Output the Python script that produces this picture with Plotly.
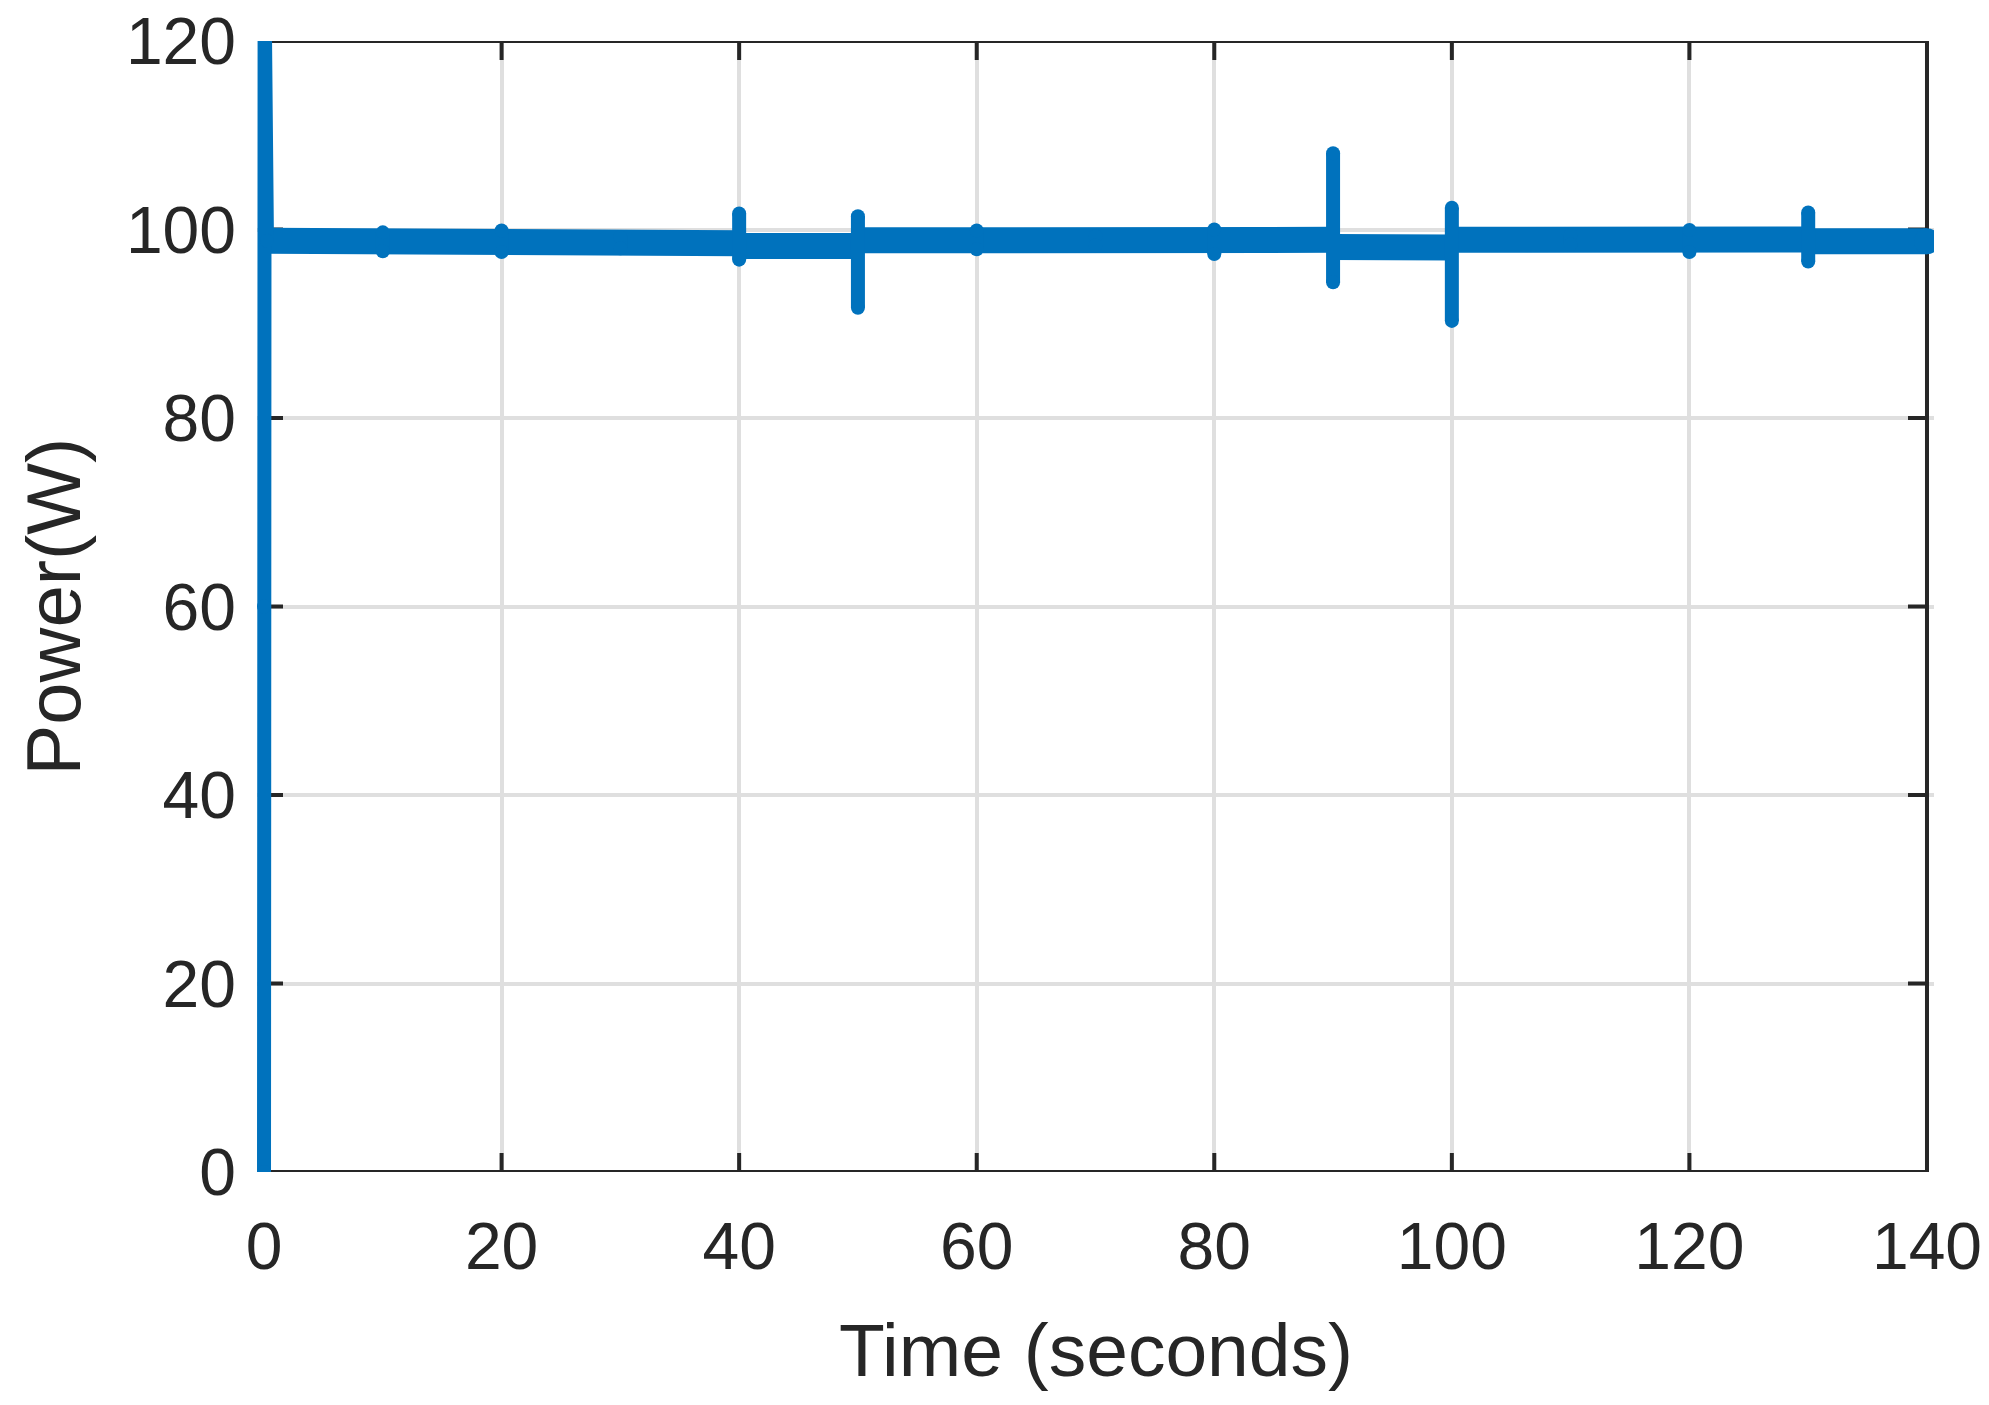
import plotly.graph_objects as go

# ---------------- data ----------------
x_ticks = [0, 20, 40, 60, 80, 100, 120, 140]
y_ticks = [0, 20, 40, 60, 80, 100, 120]

# start-up transient at t = 0
init_time = [0.0, 0.0, 0.05, 0.25]
init_power = [0.0, 60.0, 125.0, 98.8]

# steady-state plateau segments (thick ripple band)
seg_start = [0.25, 40, 50, 90, 100, 130]
seg_end = [40, 50, 90, 100, 130, 140]
seg_level_start = [98.8, 98.25, 98.85, 98.15, 98.9, 98.75]
seg_level_end = [98.55, 98.25, 98.9, 98.1, 98.95, 98.75]

# transient spikes at the irradiance change instants
spike_time = [10, 20, 30, 40, 50, 60, 70, 80, 90, 100, 110, 120, 130]
spike_high = [99.7, 99.9, 99.2, 101.7, 101.4, 99.9, 99.3, 100.0, 108.1, 102.3, 99.4, 99.95, 101.8]
spike_low = [97.7, 97.6, 98.0, 96.8, 91.7, 97.9, 98.3, 97.4, 94.4, 90.3, 98.4, 97.6, 96.6]

# ---------------- styling ----------------
BLUE = "#0072BD"
DARK = "#262626"
GRID = "#DFDFDF"
FONT = "Liberation Sans, Arial, Helvetica, sans-serif"
W, H = 1989, 1405
L, R, T, B = 257, 55, 41, 233
X_PAD = 0.59
X_MIN, X_MAX = x_ticks[0], x_ticks[-1]
Y_MIN, Y_MAX = y_ticks[0], y_ticks[-1]
TICK_FONT = 66
BAND_W = 26
LINE_W = 14

band_x, band_y, band_marker = [], [], []
for s, e, a, b in zip(seg_start, seg_end, seg_level_start, seg_level_end):
    band_x += [s, e, None]
    band_y += [a, b, None]
    band_marker += [0, 0, 0]
band_marker[-2] = BAND_W  # rounded end of the trace at the last sample

spike_x, spike_y = [], []
for t, hi, lo in zip(spike_time, spike_high, spike_low):
    spike_x += [t, t, None]
    spike_y += [hi, lo, None]

fig = go.Figure()
fig.add_trace(go.Scatter(
    x=band_x, y=band_y, mode="lines+markers", connectgaps=False,
    line=dict(color=BLUE, width=BAND_W),
    marker=dict(size=band_marker, color=BLUE, opacity=1, line=dict(width=0)),
    hoverinfo="skip", showlegend=False))
fig.add_trace(go.Scatter(
    x=spike_x, y=spike_y, mode="lines+markers", connectgaps=False,
    line=dict(color=BLUE, width=LINE_W),
    marker=dict(size=LINE_W, color=BLUE, opacity=1, line=dict(width=0)),
    hoverinfo="skip", showlegend=False))
fig.add_trace(go.Scatter(
    x=init_time, y=init_power, mode="lines+markers",
    line=dict(color=BLUE, width=LINE_W),
    marker=dict(size=LINE_W, color=BLUE, opacity=1, line=dict(width=0)),
    hoverinfo="skip", showlegend=False))

shapes = [dict(type="rect", xref="x", yref="y", x0=X_MIN, x1=X_MAX, y0=Y_MIN, y1=Y_MAX,
               line=dict(color=DARK, width=4), fillcolor="rgba(0,0,0,0)", layer="between")]
TL = 19
for v in y_ticks[1:-1]:
    for anchor, d in ((X_MIN, TL), (X_MAX, -TL)):
        shapes.append(dict(type="line", xref="x", yref="y", xsizemode="pixel", xanchor=anchor,
                           x0=0, x1=d, y0=v, y1=v, line=dict(color=DARK, width=4), layer="between"))
for v in x_ticks[1:-1]:
    for anchor, d in ((Y_MIN, TL), (Y_MAX, -TL)):
        shapes.append(dict(type="line", xref="x", yref="y", ysizemode="pixel", yanchor=anchor,
                           y0=0, y1=d, x0=v, x1=v, line=dict(color=DARK, width=4), layer="between"))

fig.update_layout(
    template="none",
    width=W, height=H,
    margin=dict(l=L, r=R, t=T, b=B, pad=0, autoexpand=False),
    paper_bgcolor="white", plot_bgcolor="white",
    font=dict(family=FONT, color=DARK),
    shapes=shapes,
    showlegend=False,
    xaxis=dict(range=[X_MIN - X_PAD, X_MAX + X_PAD], tickmode="array", tickvals=x_ticks,
               ticktext=[str(v) for v in x_ticks], ticks="", showline=False, zeroline=False,
               showgrid=True, gridcolor=GRID, gridwidth=4, automargin=False,
               tickfont=dict(size=TICK_FONT, color=DARK, family=FONT), ticklabelstandoff=30),
    yaxis=dict(range=[Y_MIN, Y_MAX], tickmode="array", tickvals=y_ticks,
               ticktext=[str(v) for v in y_ticks], ticks="", showline=False, zeroline=False,
               showgrid=True, gridcolor=GRID, gridwidth=4, automargin=False,
               tickfont=dict(size=TICK_FONT, color=DARK, family=FONT), ticklabelstandoff=20),
    annotations=[
        dict(text="Time (seconds)", xref="x", yref="paper", x=(X_MIN + X_MAX) / 2, y=-0.157,
             xanchor="center", yanchor="middle", showarrow=False,
             font=dict(size=75, color=DARK, family=FONT)),
        dict(text="Power(W)", xref="paper", yref="y", x=-0.1211, y=(Y_MIN + Y_MAX) / 2,
             xanchor="center", yanchor="middle", textangle=-90, showarrow=False,
             font=dict(size=76, color=DARK, family=FONT)),
    ],
)

fig.write_html(
    "out.html",
    config={"displayModeBar": False},
    post_script="document.body.style.margin='0';document.body.style.overflow='hidden';",
)
